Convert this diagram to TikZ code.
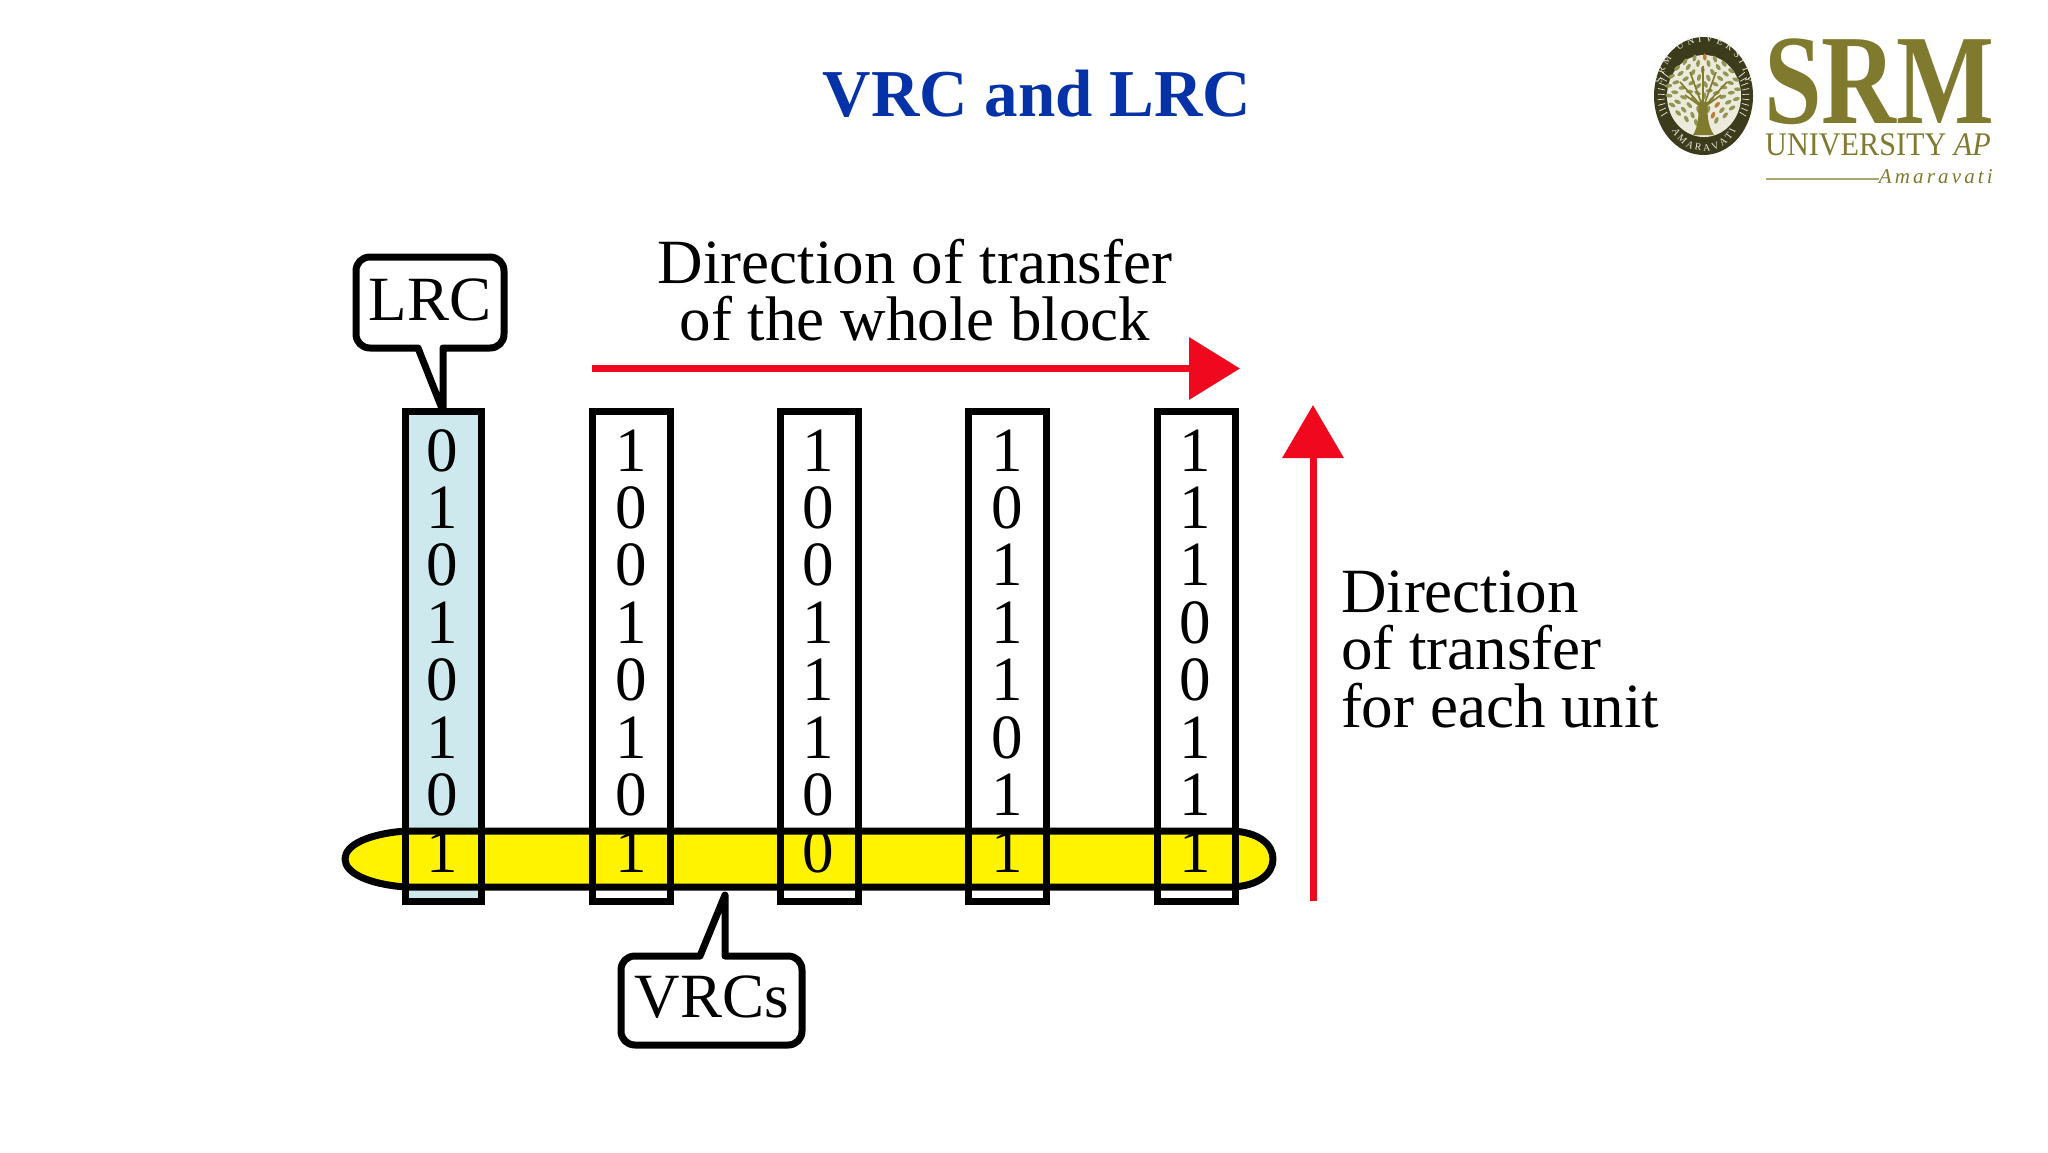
\documentclass[tikz,border=0pt]{standalone}
\usepackage{fontspec}
\setmainfont{Liberation Serif}
\newfontfamily\spacedital[LetterSpace=15,ItalicFont={Liberation Serif Italic}]{Liberation Serif}
\usetikzlibrary{arrows.meta,decorations.text}
\definecolor{titleblue}{RGB}{6,50,168}
\definecolor{arrowred}{RGB}{240,8,30}
\definecolor{lrcblue}{RGB}{205,233,238}
\definecolor{bandyellow}{RGB}{255,243,0}
\definecolor{olive}{RGB}{127,122,46}
\definecolor{palelive}{RGB}{170,167,115}
\definecolor{ringdark}{RGB}{60,60,28}
\definecolor{seedcream}{RGB}{236,234,218}
\definecolor{leaforange}{RGB}{190,125,55}
\definecolor{leafgreen}{RGB}{145,150,85}
\tikzset{
  bit/.style={anchor=base,inner sep=0pt,outer sep=0pt,font=\fontsize{63}{63}\selectfont},
  label/.style={anchor=base,inner sep=0pt,outer sep=0pt,font=\fontsize{63}{63}\selectfont},
  leftlabel/.style={anchor=base west,inner sep=0pt,outer sep=0pt,font=\fontsize{63}{63}\selectfont},
  colbox/.style={draw=black,line width=7pt,inner sep=0pt,outer sep=0pt,minimum height=490pt},
  outline/.style={draw=black,line width=7pt,line join=round},
  redarrow/.style={draw=arrowred,line width=7pt},
  ringtext/.style={decorate,decoration={text along path,text align={fit to path},
     text format delimiters={|}{|}}},
}
\begin{document}
\begin{tikzpicture}[x=1pt,y=-1pt]
\useasboundingbox (0,0) rectangle (2048,1152);
\fill[white] (0,0) rectangle (2048,1152);

% title
\node[anchor=base,inner sep=0pt,text=titleblue,font=\fontsize{67}{67}\selectfont\bfseries] (title) at (1037,116) {VRC and LRC};

% logo
\fill[ringdark] (1703.5,96) ellipse [x radius=49.5,y radius=59];
\fill[seedcream] (1704,96) ellipse [x radius=37,y radius=41];
\foreach \a in {-26,-20,...,22}{
  \draw[seedcream,line width=.7pt] ({1703.5+39*cos(\a)},{96+43*sin(\a)}) -- ({1703.5+46*cos(\a)},{96+54*sin(\a)});
  \draw[seedcream,line width=.7pt] ({1703.5-39*cos(\a)},{96+43*sin(\a)}) -- ({1703.5-46*cos(\a)},{96+54*sin(\a)});
}
\path[ringtext,decoration={text={|\fontsize{10}{10}\selectfont\color{seedcream}|SRM UNIVERSITY}}]
  (1662,84) .. controls (1668,28) and (1740,28) .. (1746,84);
\path[ringtext,decoration={text={|\fontsize{10}{10}\selectfont\color{seedcream}|AMARAVATI}}]
  (1672,130) .. controls (1684,158) and (1724,158) .. (1736,130);
\foreach \r/\n in {6/5,13/9,20/13,27/17,33/21}{
  \foreach \k in {1,...,\n}{
    \pgfmathsetmacro{\ang}{\k*360/\n+\r}
    \pgfmathtruncatemacro{\pick}{mod(\k*\r,17)}
    \ifnum\pick=3 \def\leafc{leaforange}\else\def\leafc{leafgreen}\fi
    \fill[\leafc,rotate around={\ang:({1703+1.05*\r*cos(\ang)},{90+\r*sin(\ang)})}]
      ({1703+1.05*\r*cos(\ang)},{90+\r*sin(\ang)}) ellipse [x radius=3.6,y radius=1.9];
  }
}
\fill[olive] (1693,135) .. controls (1699,125) and (1699,112) .. (1698,102)
  -- (1708,102) .. controls (1707,112) and (1707,125) .. (1714,135) -- cycle;
\foreach \ex/\ey in {1680/82,1690/72,1703/66,1716/72,1727/82,1685/95,1721/95}{
  \draw[olive,line width=1.6pt] (1703,108) -- (\ex,\ey);
}
\node[anchor=base west,inner sep=0pt,text=olive,font=\fontsize{128}{128}\selectfont\bfseries] (srm) at (1764,123) {\scalebox{.81}[1]{SRM}};
\node[anchor=base west,inner sep=0pt,text=olive,font=\fontsize{33}{33}\selectfont] (univ) at (1765,155) {\scalebox{.915}[1]{UNIVERSITY \textit{AP}}};
\node[anchor=base east,inner sep=0pt,text=olive,font=\fontsize{21}{21}\spacedital\itshape] (amar) at (1993,183) {Amaravati};
\draw[palelive,line width=1.5pt] (1766,179) -- (amar.base west |- 0,179);

% columns
\node[colbox,fill=lrcblue,minimum width=76pt] (c1) at (443,656) {};
\node[colbox,fill=white,minimum width=78pt] (c2) at (631,656) {};
\node[colbox,fill=white,minimum width=78pt] (c3) at (819.5,656) {};
\node[colbox,fill=white,minimum width=78pt] (c4) at (1007.5,656) {};
\node[colbox,fill=white,minimum width=78pt] (c5) at (1196,656) {};

% yellow band
\path[fill=bandyellow,outline] (405,831) -- (1232,831)
  .. controls (1258,832) and (1273,844) .. (1273,859)
  .. controls (1273,874) and (1258,886) .. (1232,887)
  -- (405,887)
  .. controls (368,884) and (345,873) .. (345,859)
  .. controls (345,845) and (368,834) .. (405,831) -- cycle;
\foreach \c in {c1,c2,c3,c4,c5}{
  \draw[black,line width=7pt] (\c.south west) rectangle (\c.north east);
}

% digits
\foreach \colname/\x/\bits in {a/442/{0,1,0,1,0,1,0,1},b/631/{1,0,0,1,0,1,0,1},c/818.5/{1,0,0,1,1,1,0,0},d/1007/{1,0,1,1,1,0,1,1},e/1195/{1,1,1,0,0,1,1,1}}{
  \foreach \b [count=\i from 0] in \bits {
    \node[bit] (d\colname\i) at (\x,{471+57.4*\i}) {\b};
  }
}

% callouts
\path[fill=white,outline] (370,257) -- (490,257)
  .. controls (498,257) and (504,263) .. (504,271) -- (504,334)
  .. controls (504,342) and (498,348) .. (490,348) -- (443,348)
  -- (c1.north) -- (418,348) -- (370,348)
  .. controls (362,348) and (356,342) .. (356,334) -- (356,271)
  .. controls (356,263) and (362,257) .. (370,257) -- cycle;
\node[label] (lrc) at (430,320) {LRC};

\coordinate (vrctip) at (725,895);
\path[fill=white,outline] (635,956) -- (700,956) -- (vrctip) -- (725,956) -- (788,956)
  .. controls (796,956) and (802,962) .. (802,970) -- (802,1031)
  .. controls (802,1039) and (796,1045) .. (788,1045) -- (635,1045)
  .. controls (627,1045) and (621,1039) .. (621,1031) -- (621,970)
  .. controls (621,962) and (627,956) .. (635,956) -- cycle;
\node[label] (vrc) at (712,1017) {VRCs};

% red arrows
\coordinate (hs) at (592,368.5);
\coordinate (he) at (1240,368.5);
\coordinate (vs) at (1313,901);
\coordinate (ve) at (1313,405);
\draw[redarrow,-{Triangle[length=51pt,width=61pt,fill=arrowred]}] (hs) -- (he);
\draw[redarrow,-{Triangle[length=53pt,width=60pt,fill=arrowred]}] (vs) -- (ve);

% labels
\node[label] (t1) at (915,283) {Direction of transfer};
\node[label] (t2) at (915,340) {of the whole block};
\node[leftlabel] (u1) at (1341,612) {Direction};
\node[leftlabel] (u2) at (1341,669) {of transfer};
\node[leftlabel] (u3) at (1341,727) {for each unit};
\end{tikzpicture}
\end{document}
